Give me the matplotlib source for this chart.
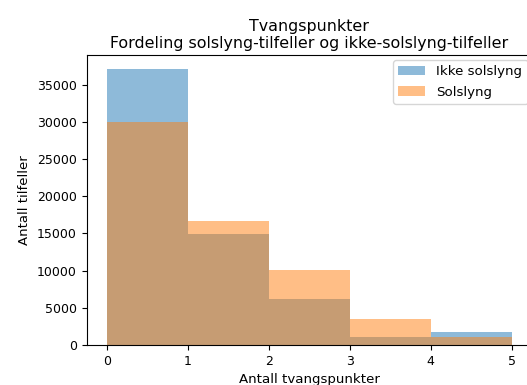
import matplotlib
matplotlib.use('Agg')
import matplotlib.pyplot as plt

bin_left = [0, 1, 2, 3, 4]
ikke_solslyng = [37150, 14900, 6250, 1080, 1800]
solslyng = [29970, 16650, 10030, 3450, 1080]

plt.rcParams['font.size'] = 9

fig = plt.figure(figsize=(5.27, 3.85), dpi=100)
# axes runs a bit past the right edge of the picture, like in the original
ax = fig.add_axes([86.5 / 527, 40 / 385, 445.5 / 527, 290 / 385])

ax.bar(bin_left, ikke_solslyng, width=1, align='edge', alpha=0.5, label='Ikke solslyng')
ax.bar(bin_left, solslyng, width=1, align='edge', alpha=0.5, label='Solslyng')

ax.set_xlim(-0.25, 5.25)
ax.set_xlabel('Antall tvangspunkter', fontsize=9.6)
ax.set_ylabel('Antall tilfeller', fontsize=9.5)
ax.set_title('Tvangspunkter\nFordeling solslyng-tilfeller og ikke-solslyng-tilfeller',
             fontsize=11.4, pad=5)
ax.legend(loc='upper left', bbox_to_anchor=((393 - 86.5) / 445.5, (345 - 60) / 290),
          borderaxespad=0, fontsize=9.6, handlelength=2.0, handletextpad=0.85,
          labelspacing=0.55)

fig.savefig('out.png', dpi=100)
